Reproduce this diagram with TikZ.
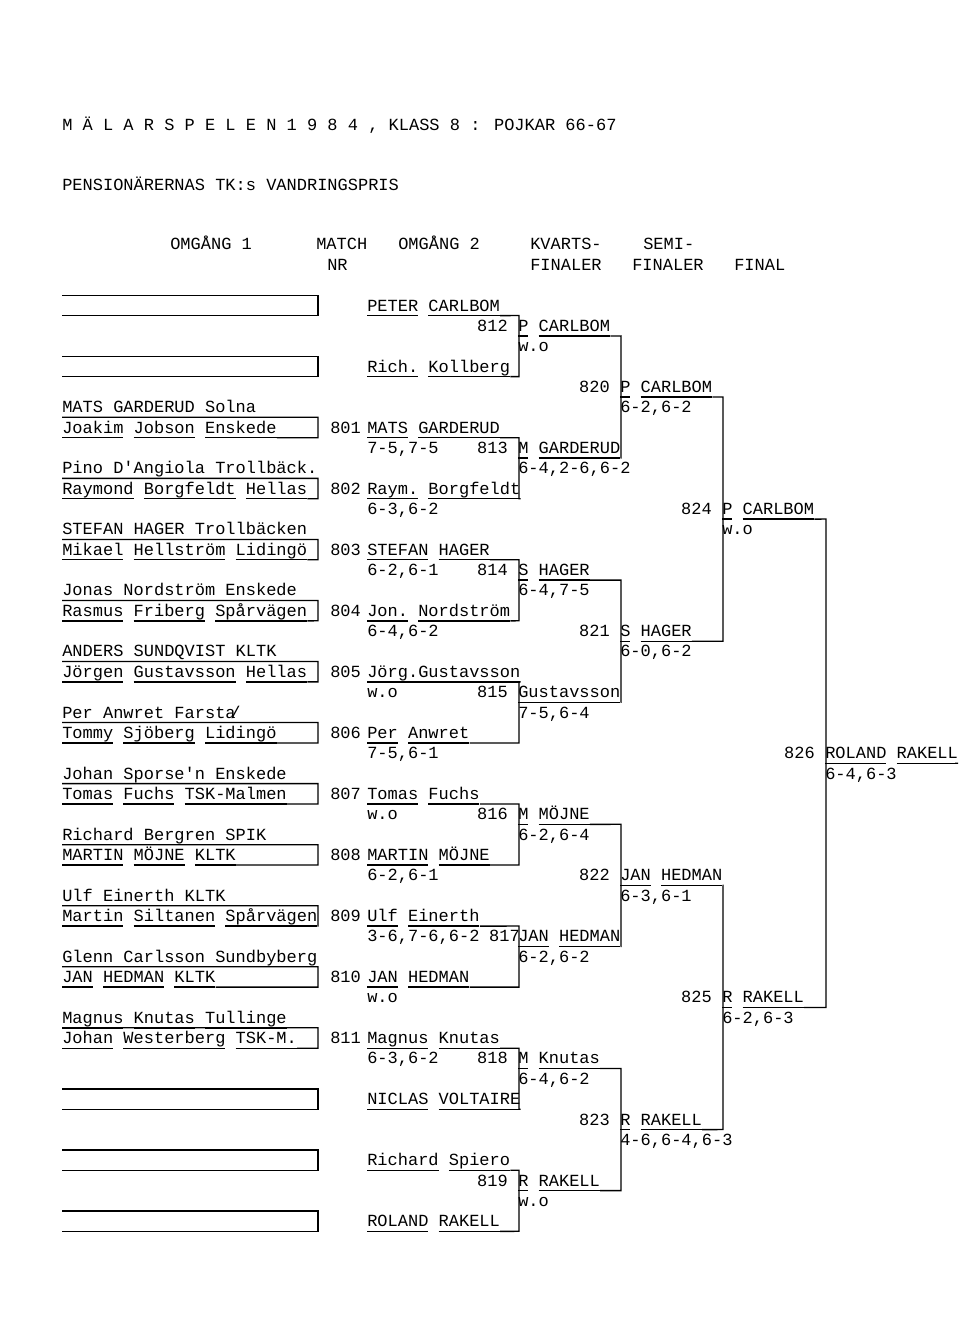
\documentclass[tikz,border=0pt]{standalone}
\usepackage{fontspec}
\newfontfamily\tw[WordSpace={1,0,0}]{Liberation Mono}
\makeatletter
\newcommand\Uline[1]{\setbox0\hbox{#1}\rlap{\rule[-3.95pt]{\wd0}{1pt}}\box0}
\def\Uword#1 #2\relax{\Uline{#1}\ifx\relax#2\relax\else\ \Uword#2\relax\fi}
\newcommand\U[1]{\edef\Utmp{#1 }\expandafter\Uword\Utmp\relax}
\makeatother
\newcommand\bracket[5]{%
  \draw[bline] ([yshift=-3.45pt]#1.base east) -- (#3,#4+0.47) -- (#3,#5+0.47) -- ([yshift=-3.45pt]#2.base east);}
\tikzset{
  txt/.style={anchor=base west, inner sep=0pt, yshift=-3.75pt, font=\tw\fontsize{12.75}{15}\selectfont},
  nr/.style={txt, anchor=base east},
  bline/.style={line width=1pt}
}
\begin{document}
\begin{tikzpicture}[x=0.75pt, y=-15.2625pt]
  \useasboundingbox (0,-15.037) rectangle (960,50.467);
  % rubriker
  \node[txt] (title) at (62,-8.894) {M Ä L A R S P E L E N 1 9 8 4 , KLASS 8 : POJKAR 66-67};
  \node[txt] (pris) at (62,-5.946) {PENSIONÄRERNAS TK:s VANDRINGSPRIS};
  \node[txt] (h1) at (170,-2.998) {OMGÅNG 1};
  \node[txt] (h2) at (316,-2.998) {MATCH};
  \node[txt] (h2b) at (327,-1.966) {NR};
  \node[txt] (h3) at (398,-2.998) {OMGÅNG 2};
  \node[txt] (h4) at (530,-2.998) {KVARTS-};
  \node[txt] (h4b) at (530,-1.966) {FINALER};
  \node[txt] (h5) at (643,-2.998) {SEMI-};
  \node[txt] (h5b) at (632,-1.966) {FINALER};
  \node[txt] (h6) at (734,-1.966) {FINAL};
  % tomma par
  \foreach \a in {-1,2,38,41,44}{
    \draw[bline] (62,\a+0.47) -- (318,\a+0.47) -- (318,\a+1.47) -- (62,\a+1.47);
  }
  % omgang 1
  \foreach \a/\tp/\bt/\m in {
      5/{MATS GARDERUD Solna}/{Joakim Jobson Enskede}/801,
      8/{Pino D'Angiola Trollbäck.}/{Raymond Borgfeldt Hellas}/802,
      11/{STEFAN HAGER Trollbäcken}/{Mikael Hellström Lidingö}/803,
      14/{Jonas Nordström Enskede}/{Rasmus Friberg Spårvägen}/804,
      17/{ANDERS SUNDQVIST KLTK}/{Jörgen Gustavsson Hellas}/805,
      20/{Per Anwret Farsta}/{Tommy Sjöberg Lidingö}/806,
      23/{Johan Sporse'n Enskede}/{Tomas Fuchs TSK-Malmen}/807,
      26/{Richard Bergren SPIK}/{MARTIN MÖJNE KLTK}/808,
      29/{Ulf Einerth KLTK}/{Martin Siltanen Spårvägen}/809,
      32/{Glenn Carlsson Sundbyberg}/{JAN HEDMAN KLTK}/810,
      35/{Magnus Knutas Tullinge}/{Johan Westerberg TSK-M.}/811}{
    \pgfmathtruncatemacro\b{\a+1}
    \ifnum\m=806
      \node[txt] (t\m) at (62,\a) {\U{\tp}\kern-4pt/};
    \else
      \node[txt] (t\m) at (62,\a) {\U{\tp}};
    \fi
    \node[txt] (b\m) at (62,\b) {\U{\bt}};
    \node[txt] (n\m) at (330,\b) {\m};
    \draw[bline] (62,\a+0.47) -- (318,\a+0.47) -- (318,\b+0.47) -- ([yshift=-3.45pt]b\m.base east);
  }
  % omgang 2
  \foreach \r/\nm/\sc in {0/PETER CARLBOM/, 3/Rich. Kollberg/, 6/MATS GARDERUD/{7-5,7-5},
      9/Raym. Borgfeldt/{6-3,6-2}, 12/STEFAN HAGER/{6-2,6-1}, 15/Jon. Nordström/{6-4,6-2},
      18/Jörg.Gustavsson/w.o, 21/Per Anwret/{7-5,6-1}, 24/Tomas Fuchs/w.o,
      27/MARTIN MÖJNE/{6-2,6-1}, 30/Ulf Einerth/{3-6,7-6,6-2}, 33/JAN HEDMAN/w.o,
      36/Magnus Knutas/{6-3,6-2}, 39/NICLAS VOLTAIRE/, 42/Richard Spiero/, 45/ROLAND RAKELL/}{
    \node[txt] (c\r) at (367,\r) {\U{\nm}};
    \node[txt] (s\r) at (367,\r+1) {\sc};
  }
  \foreach \m/\a/\b/\w/\sc/\nx in {812/0/3/P CARLBOM/w.o/508, 813/6/9/M GARDERUD/{6-4,2-6,6-2}/508,
      814/12/15/S HAGER/{6-4,7-5}/508, 815/18/21/Gustavsson/{7-5,6-4}/508, 816/24/27/M MÖJNE/{6-2,6-4}/508,
      817/30/33/JAN HEDMAN/{6-2,6-2}/520, 818/36/39/M Knutas/{6-4,6-2}/508, 819/42/45/R RAKELL/w.o/508}{
    \node[nr] (n\m) at (\nx,\a+1) {\m};
    \node[txt] (w\m) at (518,\a+1) {\U{\w}};
    \node[txt] (r\m) at (518,\a+2) {\sc};
    \bracket{c\a}{c\b}{519}{\a}{\b}
  }
  % kvartsfinaler, semifinaler, final
  \foreach \m/\p/\q/\a/\b/\X/\w/\sc in {
      820/812/813/1/7/621/P CARLBOM/{6-2,6-2}, 821/814/815/13/19/621/S HAGER/{6-0,6-2},
      822/816/817/25/31/621/JAN HEDMAN/{6-3,6-1}, 823/818/819/37/43/621/R RAKELL/{4-6,6-4,6-3},
      824/820/821/4/16/723/P CARLBOM/w.o, 825/822/823/28/40/723/R RAKELL/{6-2,6-3},
      826/824/825/10/34/826/ROLAND RAKELL/{6-4,6-3}}{
    \pgfmathtruncatemacro\mid{(\a+\b)/2}
    \node[nr] (n\m) at (\X-11,\mid) {\m};
    \node[txt] (w\m) at (\X-1,\mid) {\U{\w}};
    \node[txt] (r\m) at (\X-1,\mid+1) {\sc};
    \bracket{w\p}{w\q}{\X}{\a}{\b}
  }
  \coordinate (slut) at (955,22.47);
  \draw[bline] ([yshift=-3.45pt]w826.base east) -- (slut);
\end{tikzpicture}
\end{document}
